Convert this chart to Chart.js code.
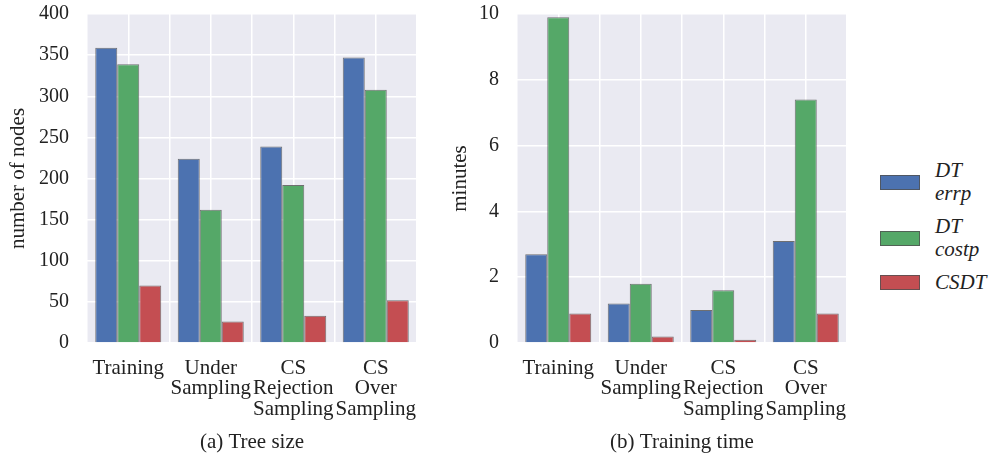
<!DOCTYPE html>
<html>
<head>
<meta charset="utf-8">
<script src="https://cdn.jsdelivr.net/npm/chart.js@4.4.0/dist/chart.umd.min.js"></script>
<style>
  body { margin: 0; background: #fff; width: 995px; height: 455px; position: relative; overflow: hidden; font-family: "Liberation Serif", serif; color: #222; }
  .panel { position: absolute; top: 0; width: 430px; height: 455px; }
  #legend { position: absolute; left: 880px; top: 159px; }
  .item { display: flex; align-items: center; margin-bottom: 10px; }
  .swatch { width: 38px; height: 13px; border: 1px solid rgba(80,80,80,0.8); margin-right: 15px; }
  .lbl { font-style: italic; font-size: 21px; line-height: 23px; }
</style>
</head>
<body>
<div class="panel" style="left:0"><canvas id="nodes"></canvas></div>
<div class="panel" style="left:430px"><canvas id="time"></canvas></div>
<div id="legend"></div>
<script>
// categories (multi-line tick labels)
const categories = [['Training'], ['Under', 'Sampling'], ['CS', 'Rejection', 'Sampling'], ['CS', 'Over', 'Sampling']];
const seriesNames = [['DT', 'errp'], ['DT', 'costp'], ['CSDT']];
const colors = ['#4C72B0', '#55A868', '#C44E52'];

// (a) tree size
const nodesErrp = [359, 224, 239, 347];
const nodesCostp = [339, 162, 192, 308];
const nodesCsdt = [70, 26, 33, 52];

// (b) training time, minutes
const timeErrp = [2.7, 1.2, 1.0, 3.1];
const timeCostp = [9.9, 1.8, 1.6, 7.4];
const timeCsdt = [0.9, 0.2, 0.1, 0.9];

const nodesMax = 400, nodesStep = 50;
const timeMax = 10, timeStep = 2;

const FONT = 'Liberation Serif';

const bgPlugin = {
  id: 'plotBg',
  beforeDraw(chart) {
    const a = chart.chartArea, c = chart.ctx;
    c.save();
    c.fillStyle = '#EAEAF2';
    c.fillRect(a.left, a.top, a.right - a.left, a.bottom - a.top);
    c.restore();
  }
};

function makeChart(id, series, yMax, yStep, yTitle, caption, yTitlePad) {
  const ctx = document.getElementById(id).getContext('2d');
  new Chart(ctx, {
    type: 'bar',
    data: {
      labels: categories,
      datasets: series.map((d, i) => ({
        label: seriesNames[i].join(' '),
        data: d,
        backgroundColor: colors[i],
        borderColor: 'rgba(80,80,80,0.8)',
        borderWidth: 1,
        categoryPercentage: 0.8,
        barPercentage: 1.0
      }))
    },
    options: {
      responsive: true,
      maintainAspectRatio: false,
      animation: false,
      layout: { padding: { top: 14, right: 13, left: 0, bottom: 0 } },
      plugins: { legend: { display: false }, tooltip: { enabled: false } },
      scales: {
        x: {
          offset: true,
          grid: { offset: true, color: '#fff', lineWidth: 1.5, drawTicks: false },
          border: { display: false },
          ticks: { color: '#222', padding: 15, maxRotation: 0, autoSkip: false, font: { family: FONT, size: 21, lineHeight: 0.98 } },
          title: { display: true, text: caption, color: '#222', padding: { top: 0, bottom: 0 }, font: { family: FONT, size: 21 } },
          afterFit: s => { s.height = 112; s.paddingLeft = 0; s.paddingRight = 0; }
        },
        x2: {
          type: 'category',
          position: 'bottom',
          offset: true,
          grid: { offset: false, color: '#fff', lineWidth: 1.5, drawTicks: false },
          border: { display: false },
          ticks: { display: false },
          afterFit: s => { s.height = 0; s.paddingLeft = 0; s.paddingRight = 0; }
        },
        y: {
          min: 0,
          max: yMax,
          ticks: { stepSize: yStep, color: '#222', padding: 18, font: { family: FONT, size: 20 } },
          grid: { color: '#fff', lineWidth: 1.5, drawTicks: false },
          border: { display: false },
          title: { display: true, text: yTitle, color: '#222', padding: { top: yTitlePad, bottom: 0 }, font: { family: FONT, size: 21 } },
          afterFit: s => { s.width = 87; s.paddingTop = 0; s.paddingBottom = 0; }
        }
      }
    },
    plugins: [bgPlugin]
  });
}

makeChart('nodes', [nodesErrp, nodesCostp, nodesCsdt], nodesMax, nodesStep, 'number of nodes', '(a) Tree size', 6);
makeChart('time', [timeErrp, timeCostp, timeCsdt], timeMax, timeStep, 'minutes', '(b) Training time', 18);

// legend
const legend = document.getElementById('legend');
seriesNames.forEach((lines, i) => {
  const item = document.createElement('div');
  item.className = 'item';
  const sw = document.createElement('div');
  sw.className = 'swatch';
  sw.style.background = colors[i];
  const lbl = document.createElement('div');
  lbl.className = 'lbl';
  lbl.innerHTML = lines.join('<br>');
  item.appendChild(sw);
  item.appendChild(lbl);
  legend.appendChild(item);
});
</script>
</body>
</html>
